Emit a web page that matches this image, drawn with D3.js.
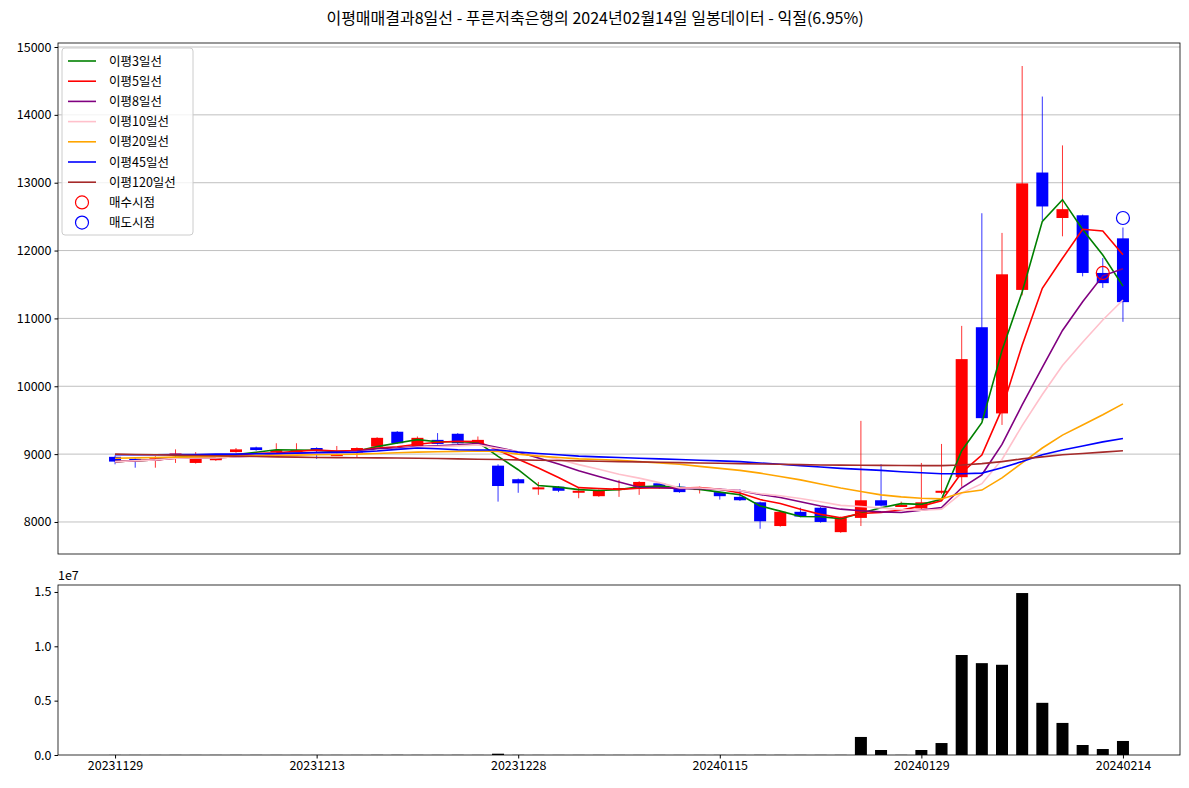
<!DOCTYPE html>
<html><head><meta charset="utf-8">
<script src="https://cdn.jsdelivr.net/npm/d3@7"></script>
<style>body{margin:0;background:#fff}svg{font-family:"Noto Sans CJK KR","Noto Sans",sans-serif}</style>
</head><body><svg id="c" width="1189" height="788"></svg>
<script>
const opens  = [8960,8930,8940,8990,8870,8910,9030,9100,9060,9060,9090,8990,9020,9110,9330,9120,9210,9300,9150,8830,8630,8510,8520,8460,8380,8500,8520,8570,8520,8500,8440,8370,8290,7940,8150,8210,7850,8060,8320,8250,8200,8430,8660,10870,9600,11420,13150,12480,12520,11670,12180];
const closes = [8890,8915,8940,9010,8960,8950,9070,9060,9060,9060,9050,9000,9090,9240,9160,9240,9150,9160,9210,8530,8570,8510,8460,8460,8470,8500,8590,8500,8440,8500,8380,8320,8010,8150,8080,8000,8070,8320,8240,8250,8290,8460,10400,9530,11650,12990,12650,12610,11670,11520,11240];
const highs  = [8980,8940,8970,9070,9030,8960,9090,9110,9160,9160,9100,9120,9100,9250,9340,9260,9310,9310,9260,8850,8640,8590,8530,8510,8480,8620,8600,8580,8570,8520,8450,8480,8300,8160,8210,8220,8080,9490,8850,8300,8870,9150,10890,12550,12260,14720,14270,13550,12530,11890,12340];
const lows   = [8850,8800,8800,8870,8860,8900,9020,9050,9050,9050,8930,8980,8950,9100,9150,9110,9140,9150,9140,8300,8430,8400,8440,8350,8370,8370,8400,8490,8430,8420,8330,8310,7900,7930,8070,7990,7840,7940,8230,8240,8190,8410,8520,9500,9430,11340,12450,12210,11620,11450,10950];
const volumes= [8000,6000,6000,8000,6000,6000,8000,8000,6000,6000,8000,6000,6000,10000,12000,8000,8000,10000,8000,120000,12000,8000,6000,6000,8000,6000,6000,6000,6000,6000,8000,8000,12000,10000,8000,8000,10000,1660000,460000,12000,460000,1100000,9200000,8450000,8300000,14900000,4800000,2950000,920000,550000,1290000];
const ma20  = [8940,8945,8950,8955,8960,8965,8970,8975,8980,8985,8990,8995,9000,9010,9020,9030,9035,9040,9045,9040,9000,8970,8950,8930,8920,8910,8890,8870,8850,8820,8790,8760,8720,8670,8620,8560,8500,8450,8400,8370,8350,8340,8430,8470,8650,8870,9090,9280,9430,9580,9740];
const ma45  = [8990,8990,8990,8995,8995,9000,9000,9005,9010,9015,9020,9025,9030,9045,9070,9090,9080,9065,9060,9060,9030,9010,8990,8970,8960,8950,8940,8930,8920,8910,8900,8890,8870,8850,8830,8810,8790,8775,8760,8740,8725,8710,8710,8720,8800,8890,8990,9060,9120,9180,9230];
const ma120 = [9000,8995,8990,8985,8980,8975,8970,8965,8960,8955,8950,8948,8946,8944,8942,8940,8935,8930,8925,8920,8915,8910,8905,8900,8895,8890,8885,8880,8875,8870,8865,8860,8855,8850,8845,8840,8838,8836,8834,8832,8830,8830,8840,8860,8890,8930,8960,8990,9010,9030,9050];
const tickIdx = [0,10,20,30,40,50];
const tickLabels = ["20231129","20231213","20231228","20240115","20240129","20240214"];
const buyPts = [{i:49,p:11670}];
const sellPts = [{i:50,p:12480}];
const yTicks = [8000,9000,10000,11000,12000,13000,14000,15000];
const vTicks = [0,0.5e7,1e7,1.5e7];

function ma(n){return closes.map((c,i)=>{const s=closes.slice(Math.max(0,i-n+1),i+1);return d3.mean(s);});}
const series=[
 {name:"이평3일선",color:"green",v:ma(3)},
 {name:"이평5일선",color:"red",v:ma(5)},
 {name:"이평8일선",color:"purple",v:ma(8)},
 {name:"이평10일선",color:"pink",v:ma(10)},
 {name:"이평20일선",color:"orange",v:ma20},
 {name:"이평45일선",color:"blue",v:ma45},
 {name:"이평120일선",color:"brown",v:ma120}];

const svg=d3.select("#c");
const L=58,R=1180,T=43,B=554,VT=585,VB=755;
const x=d3.scaleLinear().domain([-2.83,52.83]).range([L,R]);
const y=d3.scaleLinear().domain([7528,15059]).range([B,T]);
const yv=d3.scaleLinear().domain([0,1.564e7]).range([VB,VT]);
const bw=12;

svg.append("text").attr("x",595).attr("y",24).attr("text-anchor","middle").attr("font-size",16)
 .text("이평매매결과8일선 - 푸른저축은행의 2024년02월14일 일봉데이터 - 익절(6.95%)");

svg.append("g").selectAll("line").data(yTicks).join("line")
 .attr("x1",L).attr("x2",R).attr("y1",d=>y(d)).attr("y2",d=>y(d)).attr("stroke","#b0b0b0").attr("stroke-width",0.8);

const g=svg.append("g");
const idx=d3.range(opens.length);
const col=i=>closes[i]>=opens[i]?"red":"blue";
g.selectAll(".w").data(idx).join("line").attr("x1",i=>x(i)).attr("x2",i=>x(i))
 .attr("y1",i=>y(highs[i])).attr("y2",i=>y(lows[i])).attr("stroke",col).attr("stroke-width",0.8);
g.selectAll(".b").data(idx).join("rect").attr("x",i=>x(i)-bw/2).attr("width",bw)
 .attr("y",i=>y(Math.max(opens[i],closes[i]))).attr("height",i=>Math.max(2,Math.abs(y(opens[i])-y(closes[i]))))
 .attr("fill",col);

const line=d3.line().x((d,i)=>x(i)).y(d=>y(d));
series.forEach(s=>svg.append("path").attr("d",line(s.v)).attr("fill","none").attr("stroke",s.color).attr("stroke-width",1.6));

svg.selectAll(".buy").data(buyPts).join("circle").attr("cx",d=>x(d.i)).attr("cy",d=>y(d.p)).attr("r",6.5).attr("fill","none").attr("stroke","red").attr("stroke-width",1.2);
svg.selectAll(".sell").data(sellPts).join("circle").attr("cx",d=>x(d.i)).attr("cy",d=>y(d.p)).attr("r",6.5).attr("fill","none").attr("stroke","blue").attr("stroke-width",1.2);

svg.append("rect").attr("x",L).attr("y",T).attr("width",R-L).attr("height",B-T).attr("fill","none").attr("stroke","#000").attr("stroke-width",0.8);
svg.append("rect").attr("x",L).attr("y",VT).attr("width",R-L).attr("height",VB-VT).attr("fill","none").attr("stroke","#000").attr("stroke-width",0.8);

const ya=svg.append("g").attr("transform",`translate(${L},0)`).call(d3.axisLeft(y).tickValues(yTicks).tickFormat(d3.format("d")).tickSize(3.5));
ya.select(".domain").remove();
ya.selectAll("text").attr("font-size",12.5).attr("font-family","Noto Sans CJK KR");

svg.append("g").selectAll("rect").data(idx).join("rect").attr("x",i=>x(i)-bw/2).attr("width",bw)
 .attr("y",i=>yv(volumes[i])).attr("height",i=>VB-yv(volumes[i])).attr("fill","#000");
const va=svg.append("g").attr("transform",`translate(${L},0)`).call(d3.axisLeft(yv).tickValues(vTicks).tickFormat(d=>(d/1e7).toFixed(1)).tickSize(3.5));
va.select(".domain").remove();
va.selectAll("text").attr("font-size",12.5).attr("font-family","Noto Sans CJK KR");
svg.append("text").attr("x",58).attr("y",580).attr("font-size",12.5).text("1e7");
const xa=svg.append("g").attr("transform",`translate(0,${VB})`).call(d3.axisBottom(x).tickValues(tickIdx).tickFormat((d,i)=>tickLabels[i]).tickSize(3.5));
xa.select(".domain").remove();
xa.selectAll("text").attr("font-size",12.5).attr("font-family","Noto Sans CJK KR");

const lg=svg.append("g").attr("transform","translate(62,48)");
lg.append("rect").attr("width",131).attr("height",187).attr("rx",3).attr("fill","#fff").attr("fill-opacity",0.8).attr("stroke","#ccc");
series.forEach((s,k)=>{const yy=13+k*20.2;
 lg.append("line").attr("x1",6).attr("x2",34).attr("y1",yy).attr("y2",yy).attr("stroke",s.color).attr("stroke-width",1.6);
 lg.append("text").attr("x",47).attr("y",yy+4.5).attr("font-size",12.5).text(s.name);});
[["매수시점","red"],["매도시점","blue"]].forEach((m,k)=>{const yy=13+(7+k)*20.2;
 lg.append("circle").attr("cx",20).attr("cy",yy).attr("r",6.5).attr("fill","none").attr("stroke",m[1]).attr("stroke-width",1.2);
 lg.append("text").attr("x",47).attr("y",yy+4.5).attr("font-size",12.5).text(m[0]);});
</script></body></html>
